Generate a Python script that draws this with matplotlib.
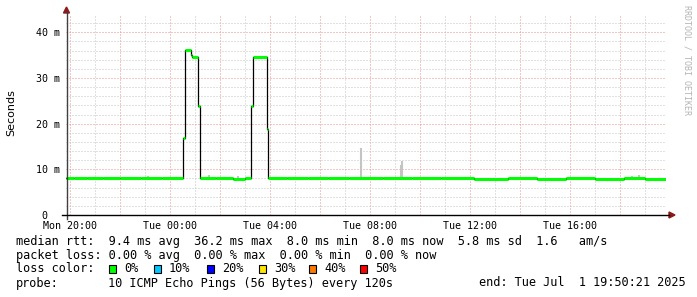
import matplotlib
matplotlib.use('Agg')
import matplotlib.pyplot as plt
import matplotlib.dates as mdates
from matplotlib.lines import Line2D
from matplotlib.patches import Polygon, Rectangle
import pandas as pd

# median rtt (ms), step values starting at each time
median_times = ['2025-06-30 19:50', '2025-06-30 20:10', '2025-06-30 20:40', '2025-06-30 21:20',
                '2025-06-30 22:00', '2025-06-30 22:50', '2025-06-30 23:40', '2025-07-01 00:32',
                '2025-07-01 00:37', '2025-07-01 00:50', '2025-07-01 00:52', '2025-07-01 01:07',
                '2025-07-01 01:12', '2025-07-01 01:50', '2025-07-01 02:30', '2025-07-01 03:00',
                '2025-07-01 03:15', '2025-07-01 03:20', '2025-07-01 03:52', '2025-07-01 03:56',
                '2025-07-01 04:40', '2025-07-01 05:30', '2025-07-01 06:20', '2025-07-01 07:10',
                '2025-07-01 08:30', '2025-07-01 09:40', '2025-07-01 10:50', '2025-07-01 12:10',
                '2025-07-01 13:30', '2025-07-01 14:40', '2025-07-01 15:50', '2025-07-01 17:00',
                '2025-07-01 18:10', '2025-07-01 19:00', '2025-07-01 19:50']
median_ms = [8.0, 8.05, 8.0, 8.05, 8.0, 8.05, 8.0, 16.8,
             36.2, 35.0, 34.6, 23.9, 8.0, 8.05, 7.95, 8.0,
             23.9, 34.6, 18.8, 8.0, 8.05, 8.0, 8.05, 8.0,
             8.0, 8.05, 8.0, 7.95, 8.0, 7.95, 8.0, 7.95,
             8.0, 7.95, 7.95]

# smoke peaks sticking out above the median line
smoke_times = ['2025-06-30 23:06', '2025-07-01 01:34', '2025-07-01 02:42', '2025-07-01 07:39',
               '2025-07-01 09:14', '2025-07-01 09:17', '2025-07-01 18:28', '2025-07-01 18:45']
smoke_top_ms = [8.6, 8.8, 8.5, 14.6, 10.9, 11.9, 8.5, 8.8]

start = pd.Timestamp('2025-06-30 19:50:21')
end = pd.Timestamp('2025-07-01 19:50:21')

loss_labels = ['0%', '10%', '20%', '30%', '40%', '50%']
loss_colors = ['#00ff00', '#00c8ff', '#0000ff', '#ffe600', '#ff7800', '#ff0000']

legend_rows = ['median rtt:  9.4 ms avg  36.2 ms max  8.0 ms min  8.0 ms now  5.8 ms sd  1.6   am/s',
               'packet loss: 0.00 % avg  0.00 % max  0.00 % min  0.00 % now']
probe_text = '10 ICMP Echo Pings (56 Bytes) every 120s'
end_text = 'end: Tue Jul  1 19:50:21 2025'

W, H = 697, 297
MONO = 'DejaVu Sans Mono'


def fx(x):
    return x / W


def fy(y):
    return 1 - y / H


fig = plt.figure(figsize=(W / 100, H / 100), dpi=100, facecolor='white')
ax = fig.add_axes([fx(66), fy(215), 600 / W, 200 / H])
ax.set_facecolor('white')

t = pd.to_datetime(median_times)
t_next = list(t[1:]) + [end]

ax.vlines(pd.to_datetime(smoke_times), 7.8, smoke_top_ms, color='#c4c4c4', lw=1.5, zorder=3)
ax.step(t, median_ms, where='post', color='black', lw=0.9, zorder=4)
ax.hlines(median_ms, t, t_next, color='#00ff00', lw=2.2, zorder=5)

ax.set_xlim(start, end)
ax.set_ylim(0, 43.8)

ax.xaxis.set_major_locator(mdates.HourLocator(byhour=range(0, 24, 2)))
ax.xaxis.set_minor_locator(mdates.HourLocator())
ax.xaxis.set_major_formatter(plt.FuncFormatter(
    lambda v, p: mdates.num2date(v).strftime('%a %H:%M') if mdates.num2date(v).hour % 4 == 0 else ''))
ax.yaxis.set_major_locator(plt.MultipleLocator(10))
ax.yaxis.set_minor_locator(plt.MultipleLocator(2))
ax.yaxis.set_major_formatter(plt.FuncFormatter(lambda v, p: '0  ' if v == 0 else '%d m' % v))

ax.grid(which='major', color='#e89090', lw=0.72, linestyle=(0, (1, 2)), zorder=1)
ax.grid(which='minor', color='#c4c4c4', lw=0.72, linestyle=(0, (1, 2)), zorder=1)
ax.set_axisbelow(True)
ax.tick_params(which='both', length=0, labelsize=7.2, pad=4)
for lab in ax.get_xticklabels() + ax.get_yticklabels():
    lab.set_family(MONO)
for s in ax.spines.values():
    s.set_visible(False)

# axes with arrows
fig.add_artist(Line2D([fx(66.5), fx(66.5)], [fy(219), fy(12)], color='#404040', lw=1))
fig.add_artist(Line2D([fx(62), fx(669)], [fy(215), fy(215)], color='black', lw=1))
fig.add_artist(Polygon([(fx(63.5), fy(13)), (fx(69.5), fy(13)), (fx(66.5), fy(7))],
                       closed=True, color='#8b1a1a'))
fig.add_artist(Polygon([(fx(669), fy(212)), (fx(669), fy(218)), (fx(675), fy(215))],
                       closed=True, color='#8b1a1a'))

fig.text(fx(11), fy(113), 'Seconds', rotation=90, ha='center', va='center', fontsize=8,
         family='DejaVu Sans')
fig.text(fx(687), fy(5), 'RRDTOOL / TOBI OETIKER', rotation=270, ha='center', va='top',
         fontsize=6, family=MONO, color='#b4b4b4')

for i, row in enumerate(legend_rows):
    fig.text(fx(16), fy(241 + 14 * i), row, ha='left', va='center', fontsize=8.55, family=MONO)
fig.text(fx(16), fy(269), 'loss color:', ha='left', va='center', fontsize=8.55, family=MONO)
box_x = [109, 154, 207, 259, 309, 360]
for bx, lab, col in zip(box_x, loss_labels, loss_colors):
    fig.add_artist(Rectangle((fx(bx), fy(273)), 7 / W, 8 / H, facecolor=col,
                             edgecolor='black', lw=0.8))
    fig.text(fx(bx + 15), fy(269), lab, ha='left', va='center', fontsize=8.55, family=MONO)
fig.text(fx(16), fy(283), 'probe:', ha='left', va='center', fontsize=8.55, family=MONO)
fig.text(fx(108), fy(283), probe_text, ha='left', va='center', fontsize=8.55, family=MONO)
fig.text(fx(686), fy(283), end_text, ha='right', va='center', fontsize=8.55, family=MONO)

fig.savefig('out.png', dpi=100, facecolor='white')
